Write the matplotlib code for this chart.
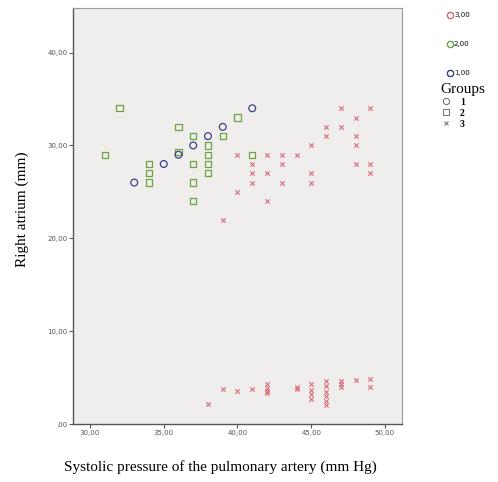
import matplotlib
matplotlib.use("Agg")
import matplotlib.pyplot as plt
from matplotlib.lines import Line2D
from matplotlib.ticker import FuncFormatter

# group 1 (blue circles)
g1_x = [33, 35, 36, 37, 38, 39, 41]
g1_y = [26, 28, 29, 30, 31, 32, 34]

# group 2 (green squares)
g2_x = [31, 32, 34, 34, 34, 36, 36, 37, 37, 37, 37, 38, 38, 38, 38, 39, 40, 41]
g2_y = [29, 34, 28, 27, 26, 32, 29.3, 31, 28, 26, 24, 30, 29, 28, 27, 31, 33, 29]

# group 3 (red crosses)
g3_x = [39, 40, 40, 41, 41, 41, 42, 42, 42, 43, 43, 43, 44, 45, 45, 45,
        46, 46, 47, 47, 48, 48, 48, 48, 49, 49, 49,
        38, 39, 40, 41, 42, 42, 42, 42, 44, 44, 45, 45, 45, 45,
        46, 46, 46, 46, 46, 46, 47, 47, 47, 48, 49, 49]
g3_y = [22, 29, 25, 28, 27, 26, 29, 27, 24, 29, 28, 26, 29, 30, 27, 26,
        32, 31, 34, 32, 33, 31, 30, 28, 34, 28, 27,
        2.2, 3.8, 3.55, 3.8, 4.3, 3.9, 3.6, 3.3, 4.0, 3.8, 4.3, 3.7, 3.2, 2.65,
        4.6, 4.05, 3.5, 3.0, 2.5, 2.0, 4.6, 4.3, 4.0, 4.7, 4.8, 4.0]

x_ticks = [30, 35, 40, 45, 50]
y_ticks = [0, 10, 20, 30, 40]

BLUE = "#3c3f8a"
GREEN = "#6aa544"
RED = "#dc6a76"

def spss_fmt(v, pos):
    if v == 0:
        return ",00"
    return ("%.2f" % v).replace(".", ",")

fig = plt.figure(figsize=(4.98, 4.82), dpi=100)
ax = fig.add_axes([0.1466, 0.1203, 0.6606, 0.8631])
ax.set_facecolor("#f0eeec")

ax.scatter(g3_x, g3_y, marker="x", s=10, color=RED, linewidths=0.8)
ax.scatter(g2_x, g2_y, marker="s", s=20, facecolors="none", edgecolors=GREEN, linewidths=0.9)
ax.scatter(g1_x, g1_y, marker="o", s=24, facecolors="none", edgecolors=BLUE, linewidths=0.9)

ax.set_xlim(28.85, 51.15)
ax.set_ylim(0, 44.8)
ax.set_xticks(x_ticks)
ax.set_yticks(y_ticks)
ax.xaxis.set_major_formatter(FuncFormatter(spss_fmt))
ax.yaxis.set_major_formatter(FuncFormatter(spss_fmt))
ax.tick_params(labelsize=5, colors="#555555", length=3, width=0.8, pad=1)

for side in ["top", "right"]:
    ax.spines[side].set_color("#9a9a9a")
    ax.spines[side].set_linewidth(0.8)
for side in ["left", "bottom"]:
    ax.spines[side].set_color("#555555")
    ax.spines[side].set_linewidth(1.0)

fig.text(0.045, 0.565, "Right atrium (mm)", rotation=90, ha="center", va="center",
         family="Liberation Serif", fontsize=11)
fig.text(0.442, 0.032, "Systolic pressure of the pulmonary artery (mm Hg)",
         ha="center", va="center", family="Liberation Serif", fontsize=11)

# colour legend
color_handles = [
    Line2D([], [], marker="o", ls="none", mfc="none", mec=RED, ms=4.5, mew=0.8),
    Line2D([], [], marker="o", ls="none", mfc="none", mec=GREEN, ms=4.5, mew=0.8),
    Line2D([], [], marker="o", ls="none", mfc="none", mec=BLUE, ms=4.5, mew=0.8),
]
leg1 = fig.legend(color_handles, ["3,00", "2,00", "1,00"], loc="upper left",
                  bbox_to_anchor=(0.885, 0.99), frameon=False, fontsize=5,
                  labelspacing=3.3, handlelength=0.6, handletextpad=0.2,
                  borderpad=0.6)
for t in leg1.get_texts():
    t.set_color("#555555")

# shape legend
shape_handles = [
    Line2D([], [], marker="o", ls="none", mfc="none", mec="#777777", ms=4.5, mew=0.8),
    Line2D([], [], marker="s", ls="none", mfc="none", mec="#777777", ms=4.5, mew=0.8),
    Line2D([], [], marker="x", ls="none", color="#777777", ms=3.5, mew=0.8),
]
leg2 = fig.legend(shape_handles, ["1", "2", "3"], loc="upper left",
                  bbox_to_anchor=(0.875, 0.838), frameon=False,
                  prop={"family": "Liberation Serif", "size": 7, "weight": "bold"},
                  title="Groups",
                  title_fontproperties={"family": "Liberation Serif", "size": 11},
                  labelspacing=0.2, handlelength=1.2, handletextpad=0.8,
                  borderpad=0.0)
leg2._legend_box.align = "left"
fig.add_artist(leg1)

fig.savefig("out.png", dpi=100, facecolor="white")
